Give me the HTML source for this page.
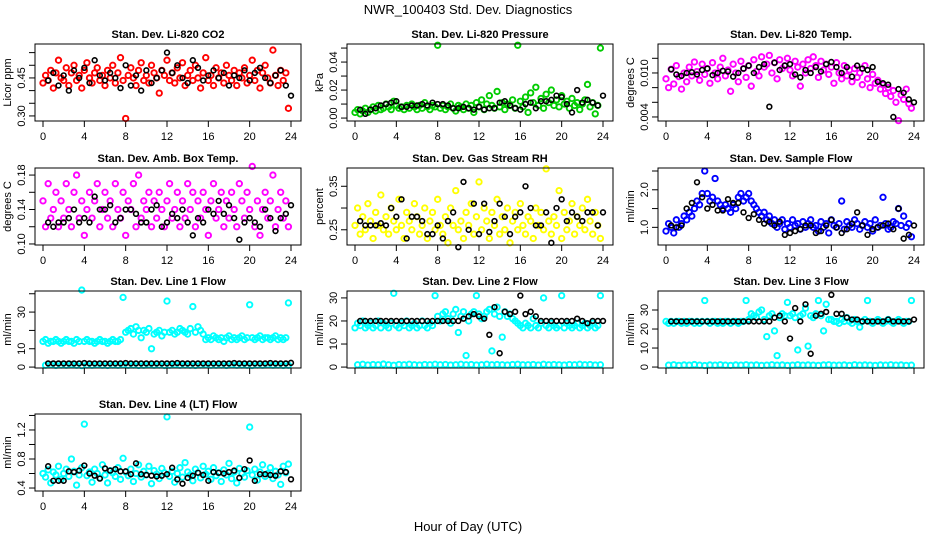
<!DOCTYPE html>
<html><head><meta charset="utf-8"><style>
html,body{margin:0;padding:0;background:#fff;}
svg{display:block;font-family:"Liberation Sans",Arial,sans-serif;}
</style></head><body>
<svg id="chart" width="936" height="540" viewBox="0 0 936 540">
<text x="468" y="14" text-anchor="middle" font-size="13">NWR_100403  Std. Dev. Diagnostics</text>
<text x="468" y="531" text-anchor="middle" font-size="13">Hour of Day (UTC)</text>
</svg>
<script>
const xTicks=[0,4,8,12,16,20,24];
const co2Color=[0.43,0.46,0.44,0.48,0.41,0.47,0.52,0.45,0.44,0.49,0.42,0.47,0.50,0.44,0.46,0.41,0.48,0.51,0.45,0.43,0.47,0.49,0.44,0.46,0.42,0.48,0.45,0.50,0.43,0.47,0.53,0.44,0.29,0.46,0.49,0.45,0.42,0.48,0.51,0.44,0.46,0.43,0.50,0.47,0.45,0.39,0.48,0.46,0.52,0.44,0.47,0.43,0.49,0.45,0.51,0.42,0.46,0.48,0.44,0.50,0.45,0.41,0.47,0.53,0.44,0.46,0.42,0.49,0.45,0.47,0.43,0.50,0.46,0.44,0.48,0.42,0.47,0.45,0.49,0.43,0.46,0.52,0.44,0.48,0.41,0.47,0.50,0.45,0.43,0.56,0.46,0.42,0.48,0.44,0.47,0.33];
const co2Black=[0.44,0.47,0.42,0.46,0.40,0.48,0.45,0.49,0.43,0.52,0.46,0.44,0.47,0.45,0.41,0.50,0.42,0.46,0.40,0.48,0.43,0.45,0.48,0.55,0.47,0.50,0.45,0.43,0.52,0.49,0.44,0.46,0.48,0.45,0.47,0.42,0.46,0.45,0.48,0.44,0.47,0.49,0.45,0.43,0.46,0.48,0.42,0.38];
const presColor=[0.004,0.006,0.003,0.005,0.007,0.004,0.006,0.008,0.005,0.009,0.006,0.007,0.010,0.008,0.006,0.012,0.009,0.007,0.008,0.006,0.009,0.007,0.010,0.008,0.006,0.009,0.007,0.011,0.008,0.006,0.009,0.008,0.052,0.007,0.009,0.006,0.008,0.010,0.007,0.005,0.009,0.008,0.006,0.010,0.007,0.009,0.004,0.011,0.008,0.013,0.006,0.010,0.016,0.009,0.007,0.019,0.008,0.011,0.006,0.010,0.009,0.013,0.007,0.052,0.012,0.008,0.015,0.004,0.018,0.011,0.022,0.009,0.014,0.007,0.017,0.011,0.020,0.009,0.013,0.008,0.016,0.010,0.012,0.007,0.014,0.009,0.011,0.006,0.010,0.013,0.024,0.008,0.011,0.003,0.009,0.050];
const presBlack=[0.006,0.003,0.006,0.007,0.009,0.010,0.011,0.012,0.008,0.008,0.009,0.009,0.010,0.009,0.011,0.010,0.010,0.009,0.007,0.007,0.008,0.007,0.006,0.008,0.006,0.007,0.007,0.011,0.012,0.009,0.007,0.006,0.010,0.011,0.007,0.012,0.012,0.013,0.016,0.015,0.010,0.004,0.020,0.011,0.013,0.011,0.009,0.016];
const tempColor=[0.0092,0.0080,0.0105,0.0085,0.0110,0.0095,0.0078,0.0100,0.0088,0.0108,0.0096,0.0115,0.0102,0.0090,0.0112,0.0098,0.0106,0.0086,0.0114,0.0100,0.0092,0.0108,0.0120,0.0096,0.0104,0.0075,0.0112,0.0100,0.0088,0.0116,0.0106,0.0094,0.0110,0.0082,0.0118,0.0102,0.0096,0.0122,0.0108,0.0112,0.0124,0.0100,0.0114,0.0092,0.0118,0.0106,0.0110,0.0120,0.0104,0.0096,0.0116,0.0108,0.0082,0.0112,0.0100,0.0118,0.0106,0.0122,0.0110,0.0094,0.0116,0.0104,0.0112,0.0098,0.0108,0.0086,0.0114,0.0100,0.0092,0.0110,0.0096,0.0104,0.0088,0.0106,0.0094,0.0100,0.0084,0.0110,0.0092,0.0080,0.0098,0.0086,0.0090,0.0078,0.0084,0.0072,0.0080,0.0068,0.0076,0.0060,0.0035,0.0070,0.0064,0.0078,0.0058,0.0052];
const tempBlack=[0.0105,0.0098,0.0096,0.0100,0.0101,0.0098,0.0104,0.0106,0.0097,0.0100,0.0103,0.0102,0.0095,0.0100,0.0106,0.0110,0.0100,0.0108,0.0112,0.0054,0.0114,0.0104,0.0110,0.0112,0.0098,0.0094,0.0104,0.0100,0.0108,0.0102,0.0112,0.0115,0.0108,0.0100,0.0108,0.0095,0.0110,0.0106,0.0104,0.0108,0.0088,0.0086,0.0084,0.0040,0.0078,0.0073,0.0064,0.0060];
const ambColor=[0.15,0.12,0.17,0.13,0.14,0.16,0.12,0.15,0.13,0.17,0.14,0.12,0.16,0.18,0.13,0.15,0.11,0.14,0.16,0.13,0.15,0.17,0.12,0.14,0.16,0.13,0.15,0.12,0.17,0.14,0.13,0.16,0.11,0.15,0.14,0.17,0.12,0.18,0.13,0.15,0.14,0.16,0.12,0.15,0.13,0.16,0.14,0.12,0.15,0.17,0.13,0.14,0.16,0.12,0.15,0.13,0.17,0.14,0.16,0.12,0.15,0.13,0.16,0.14,0.11,0.15,0.17,0.13,0.14,0.16,0.12,0.15,0.13,0.16,0.14,0.12,0.17,0.15,0.13,0.16,0.14,0.19,0.12,0.15,0.11,0.14,0.16,0.13,0.15,0.18,0.12,0.14,0.16,0.13,0.15,0.12];
const ambBlack=[0.125,0.12,0.125,0.125,0.13,0.14,0.125,0.13,0.125,0.155,0.14,0.14,0.145,0.125,0.13,0.14,0.14,0.135,0.125,0.125,0.14,0.145,0.12,0.125,0.135,0.13,0.14,0.125,0.11,0.13,0.125,0.14,0.135,0.15,0.135,0.145,0.13,0.105,0.125,0.13,0.125,0.12,0.14,0.13,0.115,0.13,0.135,0.145];
const rhColor=[0.26,0.30,0.24,0.28,0.25,0.31,0.27,0.23,0.29,0.26,0.33,0.25,0.28,0.24,0.30,0.27,0.25,0.32,0.26,0.23,0.29,0.27,0.25,0.31,0.28,0.24,0.26,0.30,0.23,0.27,0.29,0.25,0.32,0.26,0.24,0.28,0.22,0.30,0.26,0.34,0.25,0.27,0.23,0.29,0.26,0.31,0.24,0.28,0.36,0.25,0.30,0.27,0.23,0.29,0.26,0.32,0.24,0.28,0.25,0.30,0.22,0.27,0.29,0.25,0.31,0.26,0.24,0.28,0.27,0.23,0.30,0.26,0.29,0.25,0.39,0.27,0.24,0.28,0.26,0.34,0.23,0.29,0.25,0.27,0.31,0.24,0.28,0.26,0.30,0.25,0.32,0.27,0.24,0.29,0.26,0.23];
const rhBlack=[0.27,0.26,0.26,0.26,0.265,0.26,0.30,0.28,0.32,0.23,0.28,0.28,0.27,0.24,0.24,0.26,0.23,0.27,0.29,0.21,0.36,0.25,0.31,0.24,0.31,0.245,0.27,0.31,0.28,0.24,0.28,0.29,0.35,0.30,0.26,0.26,0.29,0.22,0.30,0.32,0.27,0.29,0.28,0.27,0.29,0.29,0.26,0.29];
const flowColor=[0.9,1.1,1.0,0.85,1.2,1.0,1.1,1.3,1.2,1.4,1.3,1.5,1.7,1.6,1.9,2.5,1.9,1.7,1.8,2.3,1.7,1.6,1.5,1.6,1.5,1.4,1.6,1.5,1.8,1.9,1.7,1.8,1.9,1.7,1.6,1.5,1.4,1.3,1.4,1.2,1.3,1.1,1.2,1.0,1.1,1.2,0.95,1.1,1.0,1.2,1.05,1.1,0.95,1.15,1.0,1.1,1.2,1.0,1.05,0.9,1.15,1.0,1.1,0.85,1.2,1.05,1.0,1.1,1.7,0.95,1.15,1.05,1.0,1.2,1.1,0.95,1.05,1.15,1.0,1.1,0.9,1.2,1.0,1.05,1.8,1.1,0.95,1.0,1.15,1.1,1.5,1.05,1.3,1.0,1.1,0.75];
const flowBlack=[1.05,1.0,1.05,1.5,1.65,2.2,1.8,1.5,1.6,1.45,1.45,1.75,1.65,1.65,1.4,1.25,1.35,1.2,1.1,1.15,1.05,1.15,0.8,0.85,0.9,0.95,1.05,1.05,0.85,0.9,1.05,1.2,1.0,0.85,0.95,1.1,1.4,1.05,0.8,0.95,1.0,1.05,1.1,0.95,1.5,0.7,0.8,1.05];
const line1Color=[14,15,13,14,14,15,14,13,14,15,14,14,13,15,14,42,14,15,14,14,13,14,15,14,14,13,14,15,14,14,15,38,19,20,21,18,22,20,16,20,19,21,10,18,19,20,17,19,36,19,20,18,19,21,20,19,18,21,33,19,22,20,18,15,16,15,17,16,15,16,14,16,17,15,16,15,16,17,15,16,34,16,15,16,17,15,16,16,15,16,17,15,16,15,16,35];
const line1Low=[1,1.2,0.9,1.1,1,1.3,1,0.8,1.1,1,1.2,1,0.9,1.1,1,1.2,1,1.1,0.9,1,1.2,1,1.1,0.9,1,1.2,1,1.1,1,0.9,1.1,1.2,1,1,1.1,0.9,1.2,1,1.1,1,0.9,1.1,1,1.2,1,1.1,0.9,1];
const line1Black=[2,2,2,2,2,2,2,2.2,2,2,2,2,2,2,2,2.2,2,2,2,2,2,2,2,2,2,2.2,2,2,2,2,2,2,2,2,2,2,2.2,2,2,2,2,2,2,2.2,2,2,2,2.3];
const line2Color=[17,19,18,20,17,18,19,17,18,20,17,19,18,17,19,32,18,17,19,18,20,17,18,19,17,18,20,18,17,19,18,31,22,20,23,24,21,19,23,25,15,22,24,5,20,23,24,31,23,21,22,24,25,7,23,26,22,13,24,22,23,21,20,19,18,17,19,18,17,21,18,17,19,30,18,17,19,18,17,18,31,17,19,18,17,18,19,17,18,19,17,18,19,17,18,31];
const line2Low=[1,1.2,0.9,1.1,1,1.3,1,0.8,1.1,1,1.2,1,0.9,1.1,1,1.2,1,1.1,0.9,1,1.2,1,1.1,0.9,1,1.2,1,1.1,1,0.9,1.1,1.2,1,1,1.1,0.9,1.2,1,1.1,1,0.9,1.1,1,1.2,1,1.1,0.9,1];
const line2Black=[20,20,20,20,20,20,20,20,20,20,20,20,20,20,20,20,20,20,20,20,21,22,23,22,21,14,26,6,24,23,24,31,23,24,22,20,20,20,20,20,20,20,21,20,19,20,20,20];
const line3Color=[24,23,24,23,24,24,23,24,23,24,24,23,24,23,24,35,24,23,24,24,23,24,23,24,24,23,24,24,23,24,24,35,25,28,27,26,29,30,25,16,27,28,19,6,26,28,27,34,27,28,26,9,27,28,31,11,27,26,28,35,27,19,33,25,25,24,24,23,25,24,26,24,23,25,24,21,24,25,35,24,23,24,25,24,23,24,25,24,23,24,25,24,23,24,24,35];
const line3Low=[1,1.2,0.9,1.1,1,1.3,1,0.8,1.1,1,1.2,1,0.9,1.1,1,1.2,1,1.1,0.9,1,1.2,1,1.1,0.9,1,1.2,1,1.1,1,0.9,1.1,1.2,1,1,1.1,0.9,1.2,1,1.1,1,0.9,1.1,1,1.2,1,1.1,0.9,1];
const line3Black=[24,24,24,24,24,24,24,24,24,24,24,24,24,24,24,24,24,24,24,24,26,27,24,15,31,24,33,7,27,28,29,38,28,28,26,25,25,24,24,24,24,24,25,24,24,24,24,25];
const line4Color=[0.60,0.55,0.65,0.47,0.62,0.58,0.70,0.52,0.60,0.66,0.56,0.80,0.63,0.44,0.58,0.68,1.28,0.57,0.62,0.48,0.66,0.60,0.54,0.72,0.58,0.47,0.64,0.61,0.56,0.68,0.52,0.81,0.62,0.57,0.66,0.49,0.60,0.72,0.55,0.63,0.58,0.70,0.46,0.64,0.59,0.53,0.67,0.61,1.38,0.56,0.63,0.48,0.60,0.68,0.55,0.75,0.62,0.58,0.50,0.66,0.61,0.54,0.70,0.59,0.63,0.52,0.68,0.57,0.61,0.49,0.65,0.58,0.74,0.53,0.62,0.47,0.67,0.60,0.55,0.64,1.24,0.58,0.66,0.51,0.62,0.72,0.56,0.60,0.68,0.53,0.63,0.58,0.45,0.70,0.61,0.73];
const line4Black=[0.70,0.50,0.50,0.50,0.63,0.62,0.64,0.71,0.60,0.57,0.53,0.67,0.64,0.66,0.63,0.63,0.59,0.74,0.59,0.58,0.57,0.56,0.57,0.59,0.68,0.52,0.46,0.54,0.57,0.61,0.58,0.50,0.62,0.61,0.60,0.62,0.64,0.54,0.66,0.78,0.50,0.59,0.59,0.58,0.57,0.63,0.62,0.52];

const svg=document.getElementById('chart');
const NS='http://www.w3.org/2000/svg';
function mk(tag,attrs,parent){const e=document.createElementNS(NS,tag);for(const k in attrs)e.setAttribute(k,attrs[k]);parent.appendChild(e);return e;}
const cols=[35,347,658];const rows=[44,168,291,414];const W=266,H=77;
const panels=[
 {key:'co2',title:'Stan. Dev. Li-820 CO2',yl:'Licor ppm',c:0,r:0,ymin:0.28,ymax:0.584,ticks:[0.30,0.35,0.40,0.45,0.50,0.55],labs:['0.30','','','0.45','',''],col:'#ff0000',series:[co2Color],black:co2Black},
 {key:'pressure',title:'Stan. Dev. Li-820 Pressure',yl:'kPa',c:1,r:0,ymin:-0.0021,ymax:0.0529,ticks:[0,0.01,0.02,0.03,0.04,0.05],labs:['0.00','','0.02','','0.04',''],col:'#00cc00',series:[presColor],black:presBlack},
 {key:'temp',title:'Stan. Dev. Li-820 Temp.',yl:'degrees C',c:2,r:0,ymin:0.00345,ymax:0.01395,ticks:[0.004,0.006,0.008,0.010,0.012],labs:['0.004','','','0.010',''],col:'#ff00ff',series:[tempColor],black:tempBlack},
 {key:'amb-temp',title:'Stan. Dev. Amb. Box Temp.',yl:'degrees C',c:0,r:1,ymin:0.0988,ymax:0.1882,ticks:[0.10,0.12,0.14,0.16,0.18],labs:['0.10','','0.14','','0.18'],col:'#ff00ff',series:[ambColor],black:ambBlack},
 {key:'gas-rh',title:'Stan. Dev. Gas Stream RH',yl:'percent',c:1,r:1,ymin:0.215,ymax:0.392,ticks:[0.25,0.30,0.35],labs:['0.25','','0.35'],col:'#ffff00',series:[rhColor],black:rhBlack},
 {key:'sample-flow',title:'Stan. Dev. Sample Flow',yl:'ml/min',c:2,r:1,ymin:0.53,ymax:2.58,ticks:[1.0,1.5,2.0,2.5],labs:['1.0','','2.0',''],col:'#0000ff',series:[flowColor],black:flowBlack},
 {key:'line1',title:'Stan. Dev. Line 1 Flow',yl:'ml/min',c:0,r:2,ymin:-0.5,ymax:41.5,ticks:[0,10,20,30,40],labs:['0','10','','30',''],col:'#00ffff',series:[line1Color,line1Low],black:line1Black},
 {key:'line2',title:'Stan. Dev. Line 2 Flow',yl:'ml/min',c:1,r:2,ymin:-0.4,ymax:33,ticks:[0,10,20,30],labs:['0','10','20','30'],col:'#00ffff',series:[line2Color,line2Low],black:line2Black},
 {key:'line3',title:'Stan. Dev. Line 3 Flow',yl:'ml/min',c:2,r:2,ymin:-0.5,ymax:40,ticks:[0,10,20,30],labs:['0','10','20','30'],col:'#00ffff',series:[line3Color,line3Low],black:line3Black},
 {key:'line4',title:'Stan. Dev. Line 4 (LT) Flow',yl:'ml/min',c:0,r:3,ymin:0.359,ymax:1.42,ticks:[0.4,0.6,0.8,1.0,1.2,1.4],labs:['0.4','','0.8','','1.2',''],col:'#00ffff',series:[line4Color],black:line4Black}
];
panels.forEach(p=>{
 const L=cols[p.c],T=rows[p.r];
 const g=mk('g',{},svg);
 
 
 const xs=h=>L+8+h*(248/24);
 const ys=v=>T+H-(v-p.ymin)/(p.ymax-p.ymin)*H;
 const t=mk('text',{x:L+W/2,y:T-6,'text-anchor':'middle','font-size':11,'font-weight':'bold'},g);
 t.textContent=p.title;
 
 
 const yl=mk('text',{x:0,y:0,'text-anchor':'middle','font-size':11,transform:`translate(${L-24},${T+H/2}) rotate(-90)`},g);
 yl.textContent=p.yl;
 
 
 xTicks.forEach(v=>{
  const x=xs(v);
  const tk=mk('line',{x1:x,x2:x,y1:T+H,y2:T+H+6,stroke:'#000','stroke-width':1},g);
  
  
  if(p.r!==2){
   const lb=mk('text',{x:x,y:T+H+19,'text-anchor':'middle','font-size':11},g);
   lb.textContent=v;
   
   
  }
 });
 p.ticks.forEach((v,i)=>{
  const y=ys(v);
  const tk=mk('line',{x1:L-6,x2:L,y1:y,y2:y,stroke:'#000','stroke-width':1},g);
  
  
  if(p.labs[i]){
   const lb=mk('text',{x:0,y:0,'text-anchor':'middle','font-size':11,transform:`translate(${L-10},${y}) rotate(-90)`},g);
   lb.textContent=p.labs[i];
   
   
  }
 });
 p.series.forEach(arr=>{
  const step=24/arr.length;
  arr.forEach((v,i)=>{
   const c=mk('circle',{cx:xs(i*step+(arr.length>50?0:0.25)),cy:ys(v),r:2.7,fill:'none',stroke:p.col,'stroke-width':1.9},g);
   
   
  });
 });
 p.black.forEach((v,i)=>{
  const c=mk('circle',{cx:xs(0.5+i*0.5),cy:ys(v),r:2.4,fill:'none',stroke:'#000','stroke-width':1.6},g);
  
  
 });
 const box=mk('rect',{x:L,y:T,width:W,height:H,fill:'none',stroke:'#000','stroke-width':1},g);
 
 
});
</script>
</body></html>
